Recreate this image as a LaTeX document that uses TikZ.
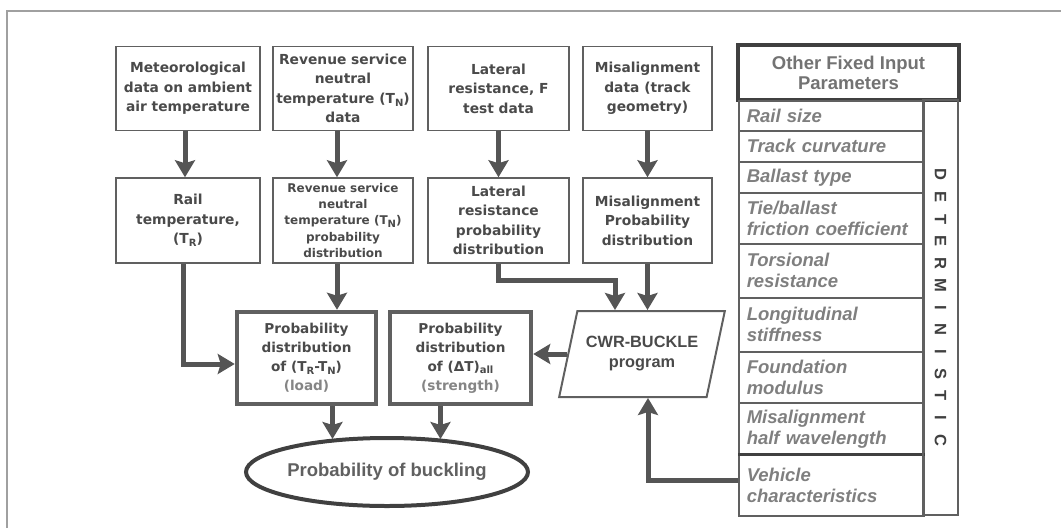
\documentclass[tikz,border=0pt]{standalone}
\usepackage{fontspec}
\setmainfont{Liberation Sans}
\newfontfamily\dv{DejaVu Sans}
\usetikzlibrary{arrows.meta,shapes.geometric,calc}
\definecolor{boxc}{HTML}{606060}
\definecolor{darkc}{HTML}{404040}
\definecolor{txtc}{HTML}{4A4A4A}
\definecolor{arrc}{HTML}{555555}
\definecolor{itc}{HTML}{7F7F7F}
\definecolor{hdc}{HTML}{737373}
\definecolor{framec}{HTML}{A0A0A0}
\definecolor{lightc}{HTML}{858585}
\newcommand{\sbs}[1]{\raisebox{-0.35ex}{\fontsize{10}{10}\selectfont #1}}
\newcommand{\dl}[1]{\makebox[22.1pt]{#1}}
\begin{document}
\begin{tikzpicture}[x=1pt,y=-1pt,
  tbox/.style={draw=boxc, line width=1.5pt, fill=white, align=center, text=txtc, inner sep=1pt,
    minimum height=84pt, font=\dv\bfseries\fontsize{13.8}{19.5}\selectfont},
  pbox/.style={draw=boxc, line width=4.5pt, fill=white, align=center, text=txtc, inner sep=1pt,
    minimum height=92pt, font=\dv\bfseries\fontsize{13.6}{19}\selectfont},
  arr/.style={draw=arrc, line width=5pt, line join=miter, -{Stealth[length=17pt,width=20pt,inset=3pt]}},
  item/.style={draw=boxc, line width=1.5pt, anchor=north west, text width=169pt, inner xsep=8pt, inner ysep=0pt,
    align=left, text=itc, font=\bfseries\itshape\fontsize{18.5}{21}\selectfont},
]
\useasboundingbox (0,0) rectangle (1061,528);
\draw[framec, line width=1.5pt] (7,528) -- (7,11) -- (1061,11);

% top row
\node[tbox, minimum width=144pt] (m1) at (188,88.5) {Meteorological\\data on ambient\\air temperature};
\node[tbox, minimum width=140pt] (m2) at (343,88.5) {Revenue service\\neutral\\temperature (T\sbs{N})\\data};
\node[tbox, minimum width=141pt] (m3) at (498.5,88.5) {Lateral\\resistance, F\\test data};
\node[tbox, minimum width=129pt] (m4) at (647.5,88.5) {Misalignment\\data (track\\geometry)};

% second row
\node[tbox, minimum width=144pt, minimum height=85pt] (r1) at (188,220.5) {Rail\\temperature,\\(T\sbs{R})};
\node[tbox, minimum width=140pt, minimum height=85pt, font=\dv\bfseries\fontsize{12}{16.3}\selectfont] (r2) at (343,220.5)
  {Revenue service\\neutral\\temperature (T\sbs{N})\\probability\\distribution};
\node[tbox, minimum width=141pt, minimum height=85pt] (r3) at (498.5,220.5) {Lateral\\resistance\\probability\\distribution};
\node[tbox, minimum width=129pt, minimum height=85pt] (r4) at (647.5,220.5) {Misalignment\\Probability\\distribution};

% probability boxes
\node[pbox, minimum width=139pt] (load) at (306.5,358) {Probability\\distribution\\of (T\sbs{R}-T\sbs{N})\\{\color{lightc}(load)}};
\node[pbox, minimum width=141pt] (str) at (460.5,358) {Probability\\distribution\\of (ΔT)\sbs{all}\\{\color{lightc}(strength)}};

% CWR-BUCKLE
\node[trapezium, trapezium left angle=68, trapezium right angle=112, trapezium stretches=true,
  draw=boxc, line width=2pt, minimum width=166pt, minimum height=86pt, align=center, text=txtc,
  font=\bfseries\fontsize{16.3}{20}\selectfont] (cwr) at (642,354) {CWR-BUCKLE\\program};

% ellipse
\node[ellipse, draw=darkc, line width=4pt, minimum width=246pt, minimum height=68pt, text=boxc,
  font=\bfseries\fontsize{18.5}{20}\selectfont, inner sep=0pt] (ell) at (387,472) {Probability of buckling};

% right column
\node[draw=darkc, line width=4pt, minimum width=221pt, minimum height=55pt, align=center, text=hdc,
  font=\bfseries\fontsize{18.5}{20}\selectfont] (hdr) at (848.5,72.5) {Other Fixed Input\\Parameters};
\node[item, minimum height=30pt] (i1) at (738,100) {Rail size};
\node[item, minimum height=31pt] (i2) at (738,130) {Track curvature};
\node[item, minimum height=31pt] (i3) at (738,161) {Ballast type};
\node[item, minimum height=51pt] (i4) at (738,192) {Tie/ballast\\friction coefficient};
\node[item, minimum height=54pt] (i5) at (738,243) {Torsional\\resistance};
\node[item, minimum height=54pt] (i6) at (738,297) {Longitudinal\\stiffness};
\node[item, minimum height=51pt] (i7) at (738,351) {Foundation\\modulus};
\node[item, minimum height=52pt] (i8) at (738,402) {Misalignment\\half wavelength};
\node[item, minimum height=61pt] (veh) at (738,454) {Vehicle\\characteristics\\[4pt]};
\draw[darkc, line width=3pt] (veh.north west) -- (veh.north east);
\node[draw=boxc, line width=1.5pt, minimum width=35pt, minimum height=415pt, inner sep=0pt, text=darkc,
  font=\bfseries\fontsize{16.5}{16.5}\selectfont] (det) at (940.5,307.5)
  {\rotatebox{-90}{\dl{D}\dl{E}\dl{T}\dl{E}\dl{R}\dl{M}\dl{I}\dl{N}\dl{I}\dl{S}\dl{T}\dl{I}\dl{C}}};

% connectors
\draw[arr] ([xshift=-3pt]m1.south) -- ([xshift=-3pt]r1.north);
\draw[arr] ([xshift=-6pt]m2.south) -- ([xshift=-6pt]r2.north);
\draw[arr] (m3.south) -- (r3.north);
\draw[arr] (m4.south) -- (r4.north);
\draw[arr] ([xshift=-5pt]r1.south) |- ([yshift=-6pt]load.west);
\draw[arr] ([xshift=-6pt]r2.south) -- ([xshift=-6pt]r2.south |- load.north);
\coordinate (lj) at (615,280);
\draw[arr] (r3.south) |- (lj) -- (lj |- cwr.north);
\draw[arr] (r4.south) -- (r4.south |- cwr.north);
\draw[arr] (cwr.west) -- (cwr.west -| str.east);
\draw[arr] ([xshift=26pt]load.south) -- ([xshift=26pt]load.south |- ell.150);
\draw[arr] ([xshift=-20pt]str.south) -- ([xshift=-20pt]str.south |- ell.30);
\coordinate (vj) at (648,480);
\draw[arr] (veh.west |- vj) -- (vj) -- (vj |- cwr.south);
\end{tikzpicture}
\end{document}
